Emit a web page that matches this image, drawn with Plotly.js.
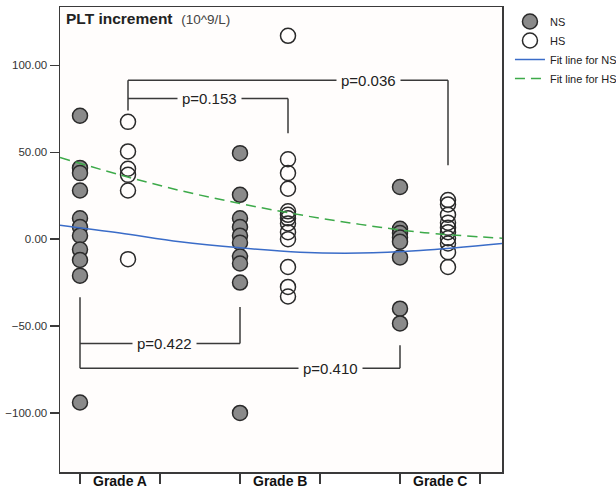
<!DOCTYPE html>
<html>
<head>
<meta charset="utf-8">
<script src="https://cdn.plot.ly/plotly-3.0.1.min.js"></script>
<style>html,body{margin:0;padding:0;background:#fff;}#chart{width:616px;height:490px;}</style>
</head>
<body>
<div id="chart"></div>
<script>
// ---- data ----
var categories = ["Grade A", "Grade B", "Grade C"];
var nsGradeA = [71, 41, 38, 28, 12, 7, 2, -6, -12, -21, -94];
var nsGradeB = [49.5, 25.5, 12, 7, 2, -2, -10, -14, -25, -100];
var nsGradeC = [30, 6, 3.5, 1, -1.5, -10.5, -40, -48.5];
var hsGradeA = [67.5, 50.5, 40.5, 37, 28, -11.5];
var hsGradeB = [117, 46, 38, 29, 16, 14, 12, 9, 4, 0, -16, -27.5, -33];
var hsGradeC = [22.5, 20, 14, 9.5, 6.5, 4, 0.5, -2.5, -7.5, -16];
var fitX = [-0.25, 0.5, 1.25, 2, 2.75, 3.5, 4.25, 5.275];
var fitNS = [8, 3.5, -1.5, -5, -7.5, -8, -6.5, -2.5];
var fitHS = [47, 37, 28, 20.5, 14, 8.5, 4, 0.5];
var yTicks = [-100, -50, 0, 50, 100];
var pLabels = ["p=0.153", "p=0.036", "p=0.422", "p=0.410"];

// ---- layout helpers ----
var GROUP_STEP = 2, HS_OFFSET = 0.6;
function posNS(i) { return i * GROUP_STEP; }
function posHS(i) { return i * GROUP_STEP + HS_OFFSET; }

var nsSets = [nsGradeA, nsGradeB, nsGradeC];
var hsSets = [hsGradeA, hsGradeB, hsGradeC];
var nsX = [], nsY = [], hsX = [], hsY = [];
nsSets.forEach(function (arr, i) { arr.forEach(function (v) { nsX.push(posNS(i)); nsY.push(v); }); });
hsSets.forEach(function (arr, i) { arr.forEach(function (v) { hsX.push(posHS(i)); hsY.push(v); }); });

var traces = [
  { x: nsX, y: nsY, type: "scatter", mode: "markers", name: "NS",
    marker: { size: 15, color: "#8a8a8a", line: { color: "#2a2a2a", width: 1.5 } } },
  { x: hsX, y: hsY, type: "scatter", mode: "markers", name: "HS",
    marker: { size: 15, symbol: "circle-open", color: "#2a2a2a", line: { color: "#2a2a2a", width: 1.5 } } },
  { x: fitX, y: fitNS, type: "scatter", mode: "lines", name: "Fit line for NS",
    line: { color: "#3a6cc8", width: 1.5, shape: "spline" } },
  { x: fitX, y: fitHS, type: "scatter", mode: "lines", name: "Fit line for HS",
    line: { color: "#3daa4a", width: 1.5, shape: "spline", dash: "10px,6px" } }
];

var bc = "#3a3a3a";
function seg(x0, y0, x1, y1) {
  return { type: "line", xref: "x", yref: "y", x0: x0, y0: y0, x1: x1, y1: y1,
           line: { color: bc, width: 1.5 } };
}
var shapes = [
  seg(posHS(0), 91.5, posHS(2), 91.5), seg(posHS(0), 91.5, posHS(0), 74), seg(posHS(2), 91.5, posHS(2), 42.5),
  seg(posHS(0), 81, posHS(1), 81), seg(posHS(1), 81, posHS(1), 61),
  seg(posNS(0), -60, posNS(1), -60), seg(posNS(0), -33.5, posNS(0), -74.3), seg(posNS(1), -39, posNS(1), -60),
  seg(posNS(0), -74.3, posNS(2), -74.3), seg(posNS(2), -61, posNS(2), -74.3)
];

var FONT = "Liberation Sans, Arial, sans-serif";
function pAnn(text, x, y) {
  return { text: text, x: x, y: y, xref: "x", yref: "y", showarrow: false,
           bgcolor: "#fffdfc", borderpad: 4, font: { family: FONT, size: 15, color: "#222" } };
}
var annotations = [
  pAnn(pLabels[0], 1.62, 81),
  pAnn(pLabels[1], 3.6, 91.5),
  pAnn(pLabels[2], 1.06, -60),
  pAnn(pLabels[3], 3.125, -74.3),
  { text: "<b>PLT increment</b>  <span style='font-size:13.5px;color:#444'>(10^9/L)</span>",
    xref: "paper", yref: "paper", x: 0.008, y: 0.998, xanchor: "left", yanchor: "top",
    showarrow: false, font: { family: FONT, size: 15.5, color: "#222" } }
];
categories.forEach(function (c, i) {
  annotations.push({ text: "<b>" + c + "</b>", x: posNS(i) + 0.5, y: 0, xref: "x", yref: "paper",
    yanchor: "top", yshift: 1, showarrow: false,
    font: { family: FONT, size: 14, color: "#111" } });
});

var layout = {
  width: 616, height: 490,
  margin: { l: 60, r: 114, t: 7, b: 18, autoexpand: false },
  paper_bgcolor: "#ffffff", plot_bgcolor: "#fffdfc",
  showlegend: true,
  legend: { x: 1.018, y: 1.0, xanchor: "left", yanchor: "top", itemwidth: 30,
            font: { family: FONT, size: 11, color: "#222" },
            bgcolor: "rgba(0,0,0,0)", tracegroupgap: 0 },
  xaxis: { range: [-0.25, 5.275], tickvals: [0, 1, 2, 3, 4, 5], showticklabels: false,
           ticks: "outside", ticklen: 10, tickwidth: 1.5, tickcolor: bc,
           showgrid: false, zeroline: false, showline: true, linecolor: bc, linewidth: 1.5, mirror: true },
  yaxis: { range: [-134, 133.6], tickvals: yTicks, tickformat: ".2f",
           ticks: "outside", ticklen: 9, tickwidth: 1.5, tickcolor: bc,
           tickfont: { family: FONT, size: 11.5, color: "#333" },
           showgrid: false, zeroline: false, showline: true, linecolor: bc, linewidth: 1.5, mirror: true },
  shapes: shapes,
  annotations: annotations
};

Plotly.newPlot("chart", traces, layout, { displayModeBar: false, staticPlot: true });
</script>
</body>
</html>
